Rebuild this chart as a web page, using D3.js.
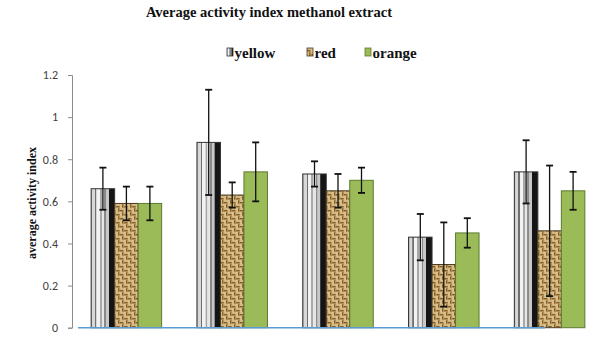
<!DOCTYPE html>
<html>
<head>
<meta charset="utf-8">
<script src="https://cdn.jsdelivr.net/npm/d3@7"></script>
<style>
  body { margin: 0; background: #fff; }
  svg { display: block; }
  .serif { font-family: "Liberation Serif", "DejaVu Serif", "Times New Roman", serif; font-weight: bold; }
</style>
</head>
<body>
<svg id="chart" width="599" height="343"></svg>
<script>
var groups = ["g1", "g2", "g3", "g4", "g5"];
var seriesNames = ["yellow", "red", "orange"];
var yellowVals = [0.66, 0.88, 0.73, 0.43, 0.74];
var redVals    = [0.59, 0.63, 0.65, 0.30, 0.46];
var orangeVals = [0.59, 0.74, 0.70, 0.45, 0.65];
var yellowErr  = [0.10, 0.25, 0.06, 0.11, 0.15];
var redErr     = [0.08, 0.06, 0.08, 0.20, 0.31];
var orangeErr  = [0.08, 0.14, 0.06, 0.07, 0.09];
var yTicks = [0, 0.2, 0.4, 0.6, 0.8, 1, 1.2];

var svg = d3.select("#chart");
var defs = svg.append("defs");

// striped metal look for the first series
var grad = defs.append("linearGradient").attr("id", "stripe")
    .attr("x1", "0%").attr("x2", "100%").attr("y1", "0%").attr("y2", "0%");
[[0, "#9a9a9a"], [0.06, "#d8d8d8"], [0.16, "#d8d8d8"], [0.17, "#707070"], [0.22, "#707070"],
 [0.23, "#f2f2f2"], [0.36, "#f2f2f2"], [0.37, "#a8a8a8"], [0.44, "#a8a8a8"], [0.45, "#e6e6e6"],
 [0.55, "#e6e6e6"], [0.56, "#8a8a8a"], [0.62, "#8a8a8a"], [0.63, "#c8c8c8"], [0.74, "#c8c8c8"],
 [0.76, "#151515"], [1, "#151515"]].forEach(function(s) {
  grad.append("stop").attr("offset", s[0]).attr("stop-color", s[1]);
});

// burlap weave for the second series
var weave = defs.append("pattern").attr("id", "weave")
    .attr("patternUnits", "userSpaceOnUse").attr("width", 8).attr("height", 8);
weave.append("rect").attr("width", 8).attr("height", 8).attr("fill", "#b8945a");
weave.append("path").attr("d", "M0,1h4M4,5h4M1,4v4M5,0v4")
    .attr("stroke", "#efdcaa").attr("stroke-width", 1.2);
weave.append("path").attr("d", "M0,2.6h3M4.4,6.6h3M2.6,4.5v3M6.6,0.5v3")
    .attr("stroke", "#6e4f22").attr("stroke-width", 0.9);

var fills = { yellow: "url(#stripe)", red: "url(#weave)", orange: "#9bbb59" };
var strokes = { yellow: "#333", red: "#4a3a20", orange: "#5d7a2e" };

var axisX = 72;

var x0 = d3.scaleBand().domain(groups).range([73.5, 602.5]);
var x1 = d3.scaleBand().domain(seriesNames).range([0, 70.5]);
var y = d3.scaleLinear().domain([0, 1.2]).range([327.7, 75]);

// y axis
var axis = svg.append("g").attr("transform", "translate(" + axisX + ",0)")
    .call(d3.axisLeft(y).tickValues(yTicks).tickSize(4).tickPadding(10)
      .tickFormat(function(d) { return d3.format("")(+d.toFixed(1)); }));
axis.select(".domain").attr("stroke", "#8c8c8c");
axis.selectAll(".tick line").attr("stroke", "#8c8c8c");
axis.selectAll(".tick text").attr("fill", "#404040")
    .style("font-family", "Carlito, 'Liberation Sans', Arial, sans-serif").style("font-size", "12px");

var rows = seriesNames.map(function(name, si) {
  var vals = [yellowVals, redVals, orangeVals][si];
  var errs = [yellowErr, redErr, orangeErr][si];
  return groups.map(function(g, gi) { return { group: g, series: name, value: vals[gi], err: errs[gi] }; });
});
var flat = [].concat.apply([], rows);

var gx = function(d) { return x0(d.group) + (x0.bandwidth() - 70.5) / 2 + x1(d.series); };

svg.append("g").selectAll("rect.bar").data(flat).enter().append("rect")
    .attr("class", "bar")
    .attr("x", gx)
    .attr("y", function(d) { return y(d.value); })
    .attr("width", x1.bandwidth())
    .attr("height", function(d) { return y(0) - y(d.value); })
    .attr("fill", function(d) { return fills[d.series]; })
    .attr("stroke", function(d) { return strokes[d.series]; })
    .attr("stroke-width", 1);

// baseline
svg.append("line").attr("x1", axisX + 6).attr("x2", 545)
    .attr("y1", y(0)).attr("y2", y(0))
    .attr("stroke", "#5b9bd5").attr("stroke-width", 1.5);

// error bars
var eb = svg.append("g").selectAll("g.err").data(flat).enter().append("g").attr("class", "err")
    .attr("stroke", "#111").attr("stroke-width", 1.3);
var cx = function(d) { return gx(d) + x1.bandwidth() / 2; };
eb.append("line").attr("x1", cx).attr("x2", cx)
    .attr("y1", function(d) { return y(d.value + d.err); })
    .attr("y2", function(d) { return y(d.value - d.err); });
eb.append("line").attr("x1", function(d) { return cx(d) - 3.5; }).attr("x2", function(d) { return cx(d) + 3.5; })
    .attr("y1", function(d) { return y(d.value + d.err); }).attr("y2", function(d) { return y(d.value + d.err); })
    .attr("stroke-width", 1.8);
eb.append("line").attr("x1", function(d) { return cx(d) - 3.5; }).attr("x2", function(d) { return cx(d) + 3.5; })
    .attr("y1", function(d) { return y(d.value - d.err); }).attr("y2", function(d) { return y(d.value - d.err); })
    .attr("stroke-width", 1.8);

// title
svg.append("text").attr("class", "serif").attr("x", 269).attr("y", 17).attr("text-anchor", "middle")
    .style("font-size", "14.5px").attr("fill", "#111")
    .text("Average activity index methanol extract");

// y label
svg.append("text").attr("class", "serif").attr("transform", "translate(36,203) rotate(-90)")
    .attr("text-anchor", "middle").style("font-size", "12px").attr("fill", "#111")
    .text("average activity index");

// legend
var legendX = [227, 307, 365];
var leg = svg.append("g").selectAll("g").data(seriesNames).enter().append("g")
    .attr("transform", function(d, i) { return "translate(" + legendX[i] + ",48)"; });
leg.append("rect").attr("width", 6).attr("height", 8)
    .attr("fill", function(d) { return fills[d]; })
    .attr("stroke", function(d) { return strokes[d]; }).attr("stroke-width", 0.8);
leg.append("text").attr("class", "serif").attr("x", 7.5).attr("y", 9.5)
    .style("font-size", "15px").attr("fill", "#111")
    .text(function(d) { return d; });
</script>
</body>
</html>
